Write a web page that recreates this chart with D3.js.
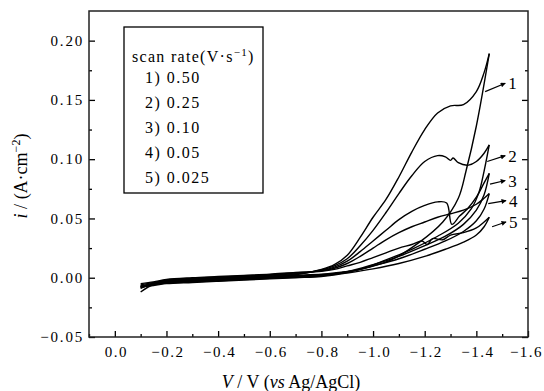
<!DOCTYPE html>
<html>
<head>
<meta charset="utf-8">
<script src="https://cdn.jsdelivr.net/npm/d3@7"></script>
<style>
  body { margin: 0; background: #fff; }
  svg { display: block; }
  svg text { font-family: "Liberation Serif", "DejaVu Serif", "Times New Roman", serif; }
</style>
</head>
<body>
<svg id="chart" width="544" height="391"></svg>
<script>
// potential (V vs Ag/AgCl), current density (A/cm2)
const fwd1 = [[-0.10,-0.008],[-0.15,-0.0055],[-0.2,-0.0035],[-0.3,-0.002],[-0.4,-0.001],[-0.5,0.0],[-0.6,0.001],[-0.7,0.0025],[-0.8,0.007],[-0.85,0.011],[-0.9,0.019],[-0.95,0.034],[-1.0,0.051],[-1.05,0.066],[-1.1,0.085],[-1.15,0.106],[-1.2,0.125],[-1.25,0.139],[-1.3,0.145],[-1.35,0.146],[-1.4,0.157],[-1.43,0.173],[-1.45,0.189]];
const rev1 = [[-1.45,0.189],[-1.40,0.128],[-1.36,0.090],[-1.33,0.067],[-1.27,0.047],[-1.18,0.030],[-1.07,0.015],[-0.95,0.007],[-0.85,0.004],[-0.8,0.003],[-0.7,0.002],[-0.6,0.001],[-0.5,0.0],[-0.4,-0.001],[-0.3,-0.002],[-0.2,-0.003],[-0.15,-0.0055],[-0.1,-0.012]];

const fwd2 = [[-0.10,-0.0075],[-0.15,-0.005],[-0.2,-0.003],[-0.3,-0.0015],[-0.4,-0.0005],[-0.5,0.0005],[-0.6,0.0015],[-0.7,0.003],[-0.8,0.0065],[-0.85,0.010],[-0.9,0.016],[-0.95,0.027],[-1.0,0.040],[-1.05,0.055],[-1.1,0.071],[-1.15,0.086],[-1.2,0.098],[-1.25,0.103],[-1.28,0.102],[-1.3,0.099],[-1.31,0.101],[-1.33,0.097],[-1.37,0.095],[-1.4,0.098],[-1.43,0.105],[-1.45,0.112]];
const rev2 = [[-1.45,0.112],[-1.43,0.090],[-1.41,0.072],[-1.38,0.058],[-1.33,0.046],[-1.25,0.035],[-1.15,0.024],[-1.05,0.015],[-0.95,0.007],[-0.85,0.0035],[-0.8,0.0025],[-0.7,0.0015],[-0.6,0.0005],[-0.5,-0.0005],[-0.4,-0.0015],[-0.3,-0.0025],[-0.2,-0.0035],[-0.15,-0.005],[-0.1,-0.009]];

const fwd3 = [[-0.10,-0.007],[-0.15,-0.0045],[-0.2,-0.0025],[-0.3,-0.001],[-0.4,0.0],[-0.5,0.001],[-0.6,0.002],[-0.7,0.0035],[-0.8,0.006],[-0.85,0.009],[-0.9,0.014],[-0.95,0.022],[-1.0,0.031],[-1.05,0.040],[-1.1,0.049],[-1.15,0.056],[-1.2,0.061],[-1.25,0.064],[-1.285,0.063],[-1.305,0.045],[-1.335,0.052],[-1.365,0.058],[-1.4,0.068],[-1.43,0.080],[-1.45,0.088]];
const rev3 = [[-1.45,0.088],[-1.43,0.070],[-1.4,0.057],[-1.35,0.045],[-1.28,0.035],[-1.2,0.027],[-1.1,0.018],[-1.0,0.011],[-0.9,0.005],[-0.8,0.002],[-0.7,0.001],[-0.6,0.0],[-0.5,-0.001],[-0.4,-0.002],[-0.3,-0.003],[-0.2,-0.004],[-0.15,-0.0055],[-0.1,-0.0085]];

const fwd4 = [[-0.10,-0.006],[-0.15,-0.004],[-0.2,-0.002],[-0.3,-0.0005],[-0.4,0.0005],[-0.5,0.0015],[-0.6,0.0025],[-0.7,0.004],[-0.8,0.0058],[-0.85,0.008],[-0.9,0.012],[-0.95,0.018],[-1.0,0.025],[-1.05,0.032],[-1.1,0.038],[-1.15,0.043],[-1.2,0.047],[-1.25,0.051],[-1.3,0.054],[-1.35,0.057],[-1.4,0.062],[-1.43,0.067],[-1.45,0.071]];
const rev4 = [[-1.45,0.071],[-1.43,0.058],[-1.4,0.048],[-1.35,0.039],[-1.28,0.031],[-1.2,0.024],[-1.1,0.016],[-1.0,0.010],[-0.9,0.0045],[-0.8,0.0015],[-0.7,0.0005],[-0.6,-0.0005],[-0.5,-0.0015],[-0.4,-0.0025],[-0.3,-0.0035],[-0.2,-0.0045],[-0.15,-0.006],[-0.1,-0.0075]];

const fwd5 = [[-0.10,-0.005],[-0.15,-0.0035],[-0.2,-0.0015],[-0.3,0.0],[-0.4,0.001],[-0.5,0.002],[-0.6,0.003],[-0.7,0.0045],[-0.8,0.0055],[-0.85,0.007],[-0.9,0.010],[-0.95,0.013],[-1.0,0.017],[-1.05,0.021],[-1.1,0.025],[-1.15,0.028],[-1.19,0.031],[-1.21,0.028],[-1.23,0.033],[-1.27,0.032],[-1.3,0.036],[-1.35,0.038],[-1.4,0.042],[-1.43,0.047],[-1.45,0.051]];
const rev5 = [[-1.45,0.051],[-1.43,0.043],[-1.4,0.036],[-1.35,0.030],[-1.28,0.024],[-1.2,0.018],[-1.1,0.012],[-1.0,0.0075],[-0.9,0.004],[-0.8,0.001],[-0.7,0.0],[-0.6,-0.001],[-0.5,-0.002],[-0.4,-0.003],[-0.3,-0.004],[-0.2,-0.005],[-0.15,-0.0065],[-0.1,-0.007]];

const curves = [fwd1, rev1, fwd2, rev2, fwd3, rev3, fwd4, rev4, fwd5, rev5];

const legendTitle = "scan rate";
const legendItems = ["1) 0.50", "2) 0.25", "3) 0.10", "4) 0.05", "5) 0.025"];

// arrow annotations: [label, from V, from i, to V, to i]
const arrows = [
  ["1", -1.434, 0.157, -1.512, 0.164],
  ["2", -1.442, 0.098, -1.512, 0.103],
  ["3", -1.453, 0.079, -1.512, 0.082],
  ["4", -1.446, 0.0625, -1.515, 0.065],
  ["5", -1.461, 0.043, -1.515, 0.047]
];

const xMajor = [0.0, -0.2, -0.4, -0.6, -0.8, -1.0, -1.2, -1.4, -1.6];
const xMinor = [0.1, -0.1, -0.3, -0.5, -0.7, -0.9, -1.1, -1.3, -1.5];
const yMajor = [-0.05, 0.0, 0.05, 0.10, 0.15, 0.20];
const yMinor = [-0.025, 0.025, 0.075, 0.125, 0.175];

const pLeft = 89, pRight = 528, pTop = 11, pBottom = 337;
const serif = '"Liberation Serif", "DejaVu Serif", "Times New Roman", serif';

const svg = d3.select('#chart');

const x = d3.scaleLinear().domain([0.1, -1.6]).range([pLeft, pRight]);
const y = d3.scaleLinear().domain([-0.05, 0.225]).range([pBottom, pTop]);

// ticks (inward), mirrored on the right
const gx = svg.append('g').attr('transform', `translate(0,${pBottom})`)
  .call(d3.axisBottom(x).tickValues(xMajor).tickSize(-6).tickPadding(9).tickFormat(d3.format('.1f')));
svg.append('g').attr('transform', `translate(0,${pBottom})`)
  .call(d3.axisBottom(x).tickValues(xMinor).tickSize(-3).tickFormat(''));
const gy = svg.append('g').attr('transform', `translate(${pLeft},0)`)
  .call(d3.axisLeft(y).tickValues(yMajor).tickSize(-6).tickPadding(5).tickFormat(d3.format('.2f')));
svg.append('g').attr('transform', `translate(${pLeft},0)`)
  .call(d3.axisLeft(y).tickValues(yMinor).tickSize(-3).tickFormat(''));
svg.append('g').attr('transform', `translate(${pRight},0)`)
  .call(d3.axisRight(y).tickValues(yMajor).tickSize(-6).tickFormat(''));
svg.append('g').attr('transform', `translate(${pRight},0)`)
  .call(d3.axisRight(y).tickValues(yMinor).tickSize(-3).tickFormat(''));

svg.selectAll('.domain').remove();
svg.selectAll('g').attr('font-family', serif);
svg.selectAll('.tick line').attr('stroke', '#000').attr('stroke-width', 1.3);
svg.selectAll('.tick text')
  .attr('font-size', 15).attr('fill', '#000');
gy.selectAll('.tick text').attr('letter-spacing', 1.8);
gx.selectAll('.tick text').attr('letter-spacing', 1.5).attr('dx', 1);
gx.selectAll('.tick text').filter(d => d === -1.6).attr('dx', -2);

// frame
svg.append('rect')
  .attr('x', pLeft).attr('y', pTop)
  .attr('width', pRight - pLeft).attr('height', pBottom - pTop)
  .attr('fill', 'none').attr('stroke', '#222').attr('stroke-width', 1.5);

// curves
const line = d3.line()
  .x(d => x(d[0])).y(d => y(d[1]))
  .curve(d3.curveCatmullRom.alpha(0.5));

svg.append('g').selectAll('path')
  .data(curves)
  .enter()
  .append('path')
  .attr('d', d => line(d))
  .attr('fill', 'none')
  .attr('stroke', '#000')
  .attr('stroke-width', 1.4)
  .attr('stroke-linejoin', 'round');

// arrows
svg.append('defs').append('marker')
  .attr('id', 'head').attr('viewBox', '0 0 10 10')
  .attr('refX', 9).attr('refY', 5)
  .attr('markerWidth', 7).attr('markerHeight', 5)
  .attr('markerUnits', 'userSpaceOnUse')
  .attr('orient', 'auto')
  .append('path').attr('d', 'M0,0L10,5L0,10z').attr('fill', '#000');

const ann = svg.append('g');
arrows.forEach(a => {
  ann.append('line')
    .attr('x1', x(a[1])).attr('y1', y(a[2]))
    .attr('x2', x(a[3])).attr('y2', y(a[4]))
    .attr('stroke', '#000').attr('stroke-width', 1.2)
    .attr('marker-end', 'url(#head)');
  ann.append('text')
    .attr('x', x(a[3]) + 3).attr('y', y(a[4]) + 6)
    .attr('font-size', 17)
    .text(a[0]);
});

// legend
const lg = svg.append('g');
lg.append('rect')
  .attr('x', 124).attr('y', 27).attr('width', 139).attr('height', 166)
  .attr('fill', '#fff').attr('stroke', '#000').attr('stroke-width', 1.3);
const title = lg.append('text')
  .attr('x', 132).attr('y', 62)
  .attr('font-size', 16).attr('letter-spacing', 1.3);
title.append('tspan').text(legendTitle + '(V·s');
title.append('tspan').attr('dy', -6).attr('font-size', 11).text('−1');
title.append('tspan').attr('dy', 6).text(')');
lg.selectAll('.item')
  .data(legendItems)
  .enter()
  .append('text')
  .attr('class', 'item')
  .attr('x', 145)
  .attr('y', (d, i) => 83 + i * 25)
  .attr('font-size', 16).attr('letter-spacing', 1.5)
  .text(d => d);

// axis titles
const yl = svg.append('text')
  .attr('transform', 'translate(27,176) rotate(-90)')
  .attr('text-anchor', 'middle')
  .attr('font-size', 18);
yl.append('tspan').attr('font-style', 'italic').text('i');
yl.append('tspan').text(' / (A·cm');
yl.append('tspan').attr('dy', -7).attr('font-size', 12).text('−2');
yl.append('tspan').attr('dy', 7).text(')');

const xl = svg.append('text')
  .attr('x', 291).attr('y', 388)
  .attr('text-anchor', 'middle')
  .attr('font-size', 18);
xl.append('tspan').attr('font-style', 'italic').text('V');
xl.append('tspan').text(' / V (');
xl.append('tspan').attr('font-style', 'italic').text('vs');
xl.append('tspan').text(' Ag/AgCl)');
</script>
</body>
</html>
